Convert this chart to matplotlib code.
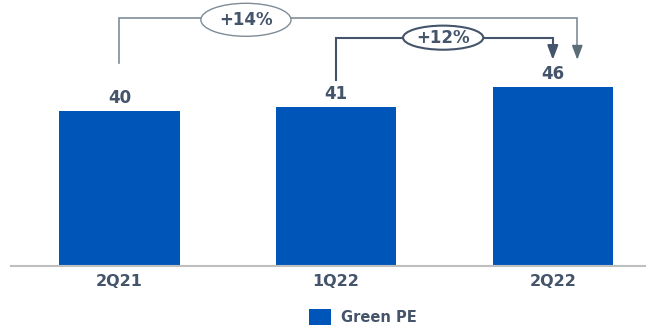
import matplotlib
matplotlib.use("Agg")
import matplotlib.pyplot as plt
from matplotlib.patches import Ellipse

categories = ["2Q21", "1Q22", "2Q22"]
values = [40, 41, 46]
series_name = "Green PE"
growth_labels = ["+14%", "+12%"]

BAR = "#0055B8"
TXT = "#44546A"
LIGHT = "#7F8C96"
LIGHT_HEAD = "#5B6E78"

fig = plt.figure(figsize=(6.46, 3.26), dpi=100)
ax = fig.add_axes([11/646, 60/326, 635/646, 266/326])
x = list(range(len(categories)))
bars = ax.bar(x, values, width=0.555, color=BAR, label=series_name, zorder=2)
ax.set_xlim(-0.5, 2.43)
ax.set_ylim(0, 68.5)
for s in ["top", "right", "left"]:
    ax.spines[s].set_visible(False)
ax.spines["bottom"].set_color("#BFBFBF")
ax.spines["bottom"].set_linewidth(1.5)
ax.set_yticks([])
ax.set_xticks(x)
ax.set_xticklabels(categories, fontsize=11.5, fontweight="bold", color=TXT)
ax.tick_params(axis="x", length=0, pad=6)

for xi, v in zip(x, values):
    ax.text(xi, v + 1.0, f"{v}", ha="center", va="bottom", fontsize=12,
            fontweight="bold", color=TXT)

arrow_kw = "-|>,head_length=0.85,head_width=0.32"

# +14% bracket (2Q21 -> 2Q22)
tip_y = values[2] + 7.1
y14 = values[0] + 23.9
ax.plot([x[0], x[0], x[2] + 0.113, x[2] + 0.113], [values[0] + 12.3, y14, y14, tip_y + 2.5],
        color=LIGHT, lw=1.2, solid_joinstyle="miter", zorder=3)
ax.annotate("", xy=(x[2] + 0.113, tip_y), xytext=(x[2] + 0.113, tip_y + 3.2),
            arrowprops=dict(arrowstyle=arrow_kw, color=LIGHT_HEAD, lw=1.2,
                            shrinkA=0, shrinkB=0), zorder=3)
e1 = Ellipse((0.584, y14 - 0.5), 0.416, 8.5, facecolor="white", edgecolor=LIGHT, lw=1.0, zorder=4)
ax.add_patch(e1)
ax.text(0.584, y14 - 0.5, growth_labels[0], ha="center", va="center", fontsize=12,
        fontweight="bold", color=TXT, zorder=5)

# +12% bracket (1Q22 -> 2Q22)
y12 = values[1] + 17.8
ax.plot([x[1], x[1], x[2], x[2]], [values[1] + 6.9, y12, y12, tip_y + 2.5],
        color=TXT, lw=1.5, solid_joinstyle="miter", zorder=3)
ax.annotate("", xy=(x[2], tip_y), xytext=(x[2], tip_y + 3.2),
            arrowprops=dict(arrowstyle=arrow_kw, color=TXT, lw=1.5,
                            shrinkA=0, shrinkB=0), zorder=3)
e2 = Ellipse((1.494, y12), 0.37, 6.2, facecolor="white", edgecolor=TXT, lw=1.5, zorder=4)
ax.add_patch(e2)
ax.text(1.494, y12, growth_labels[1], ha="center", va="center", fontsize=12,
        fontweight="bold", color=TXT, zorder=5)

leg = fig.legend(handles=[bars], labels=[series_name], loc="center",
                 bbox_to_anchor=(363/646, 1 - 317/326), frameon=False,
                 handlelength=1.5, handleheight=1.4, handletextpad=0.7,
                 prop=dict(size=10.5, weight="bold"))
for t in leg.get_texts():
    t.set_color(TXT)

fig.savefig("out.png", dpi=100)
